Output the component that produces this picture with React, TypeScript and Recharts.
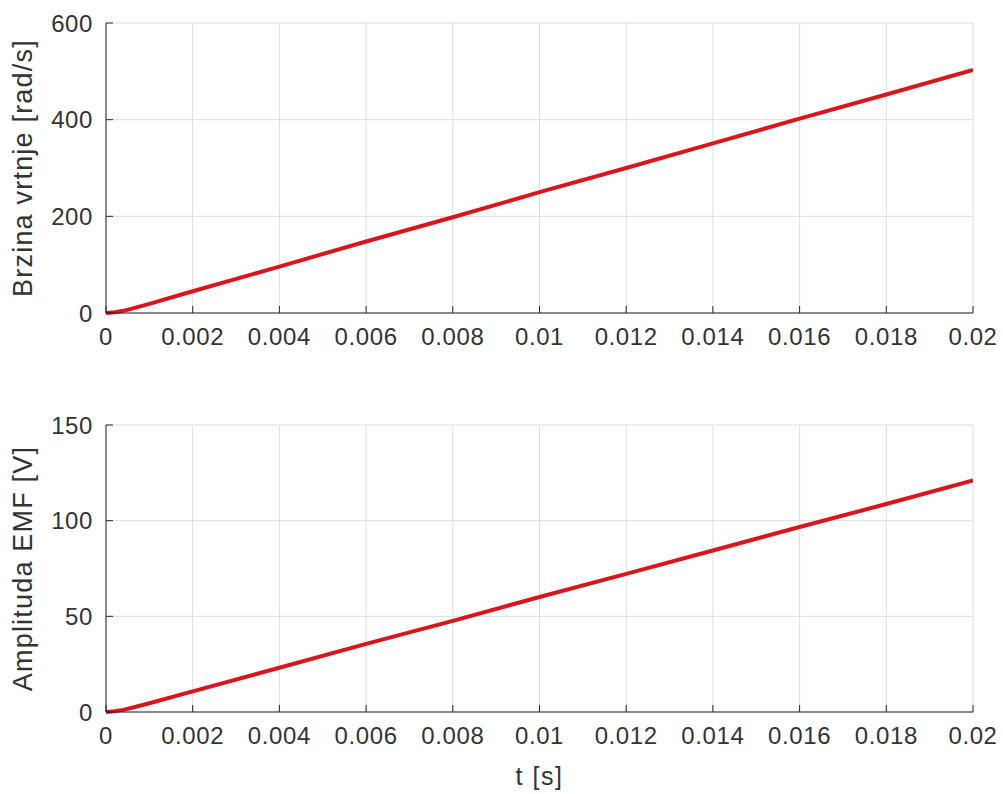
import React from 'react';
import { LineChart, Line, XAxis, YAxis, CartesianGrid } from 'recharts';

const timeS = [0, 0.0002, 0.0004, 0.0006, 0.001, 0.002, 0.004, 0.006, 0.008, 0.01, 0.012, 0.014, 0.016, 0.018, 0.02];
const speedRadS = [0, 1.5, 4.5, 9, 19, 45, 96, 148, 198, 250, 300, 351, 402, 452, 503];
const emfV = [0, 0.4, 1.1, 2.2, 4.6, 10.8, 23.1, 35.6, 47.6, 60.1, 72.2, 84.4, 96.7, 108.7, 121];
const xTicks = [0, 0.002, 0.004, 0.006, 0.008, 0.01, 0.012, 0.014, 0.016, 0.018, 0.02];
const speedTicks = [0, 200, 400, 600];
const emfTicks = [0, 50, 100, 150];

const speedData = timeS.map((t, i) => ({ t, v: speedRadS[i] }));
const emfData = timeS.map((t, i) => ({ t, v: emfV[i] }));

const AX = '#262626';
const TXT = '#333333';
const FONT = 'Liberation Sans, Arial, Helvetica, sans-serif';
const tickStyle = { fill: TXT, fontSize: 24, fontFamily: FONT, letterSpacing: 0.6 };
const labelStyle = { fill: TXT, fontSize: 27, fontFamily: FONT, letterSpacing: 1.2 };
const fmt = (v: number) => String(Number(v.toFixed(4)));

function Panel(props: {
  data: { t: number; v: number }[];
  yTicks: number[];
  yMax: number;
  yLabel: string;
  height: number;
  marginTop: number;
  marginBottom: number;
  xAxisHeight: number;
  xLabel?: string;
}) {
  return (
    <LineChart
      width={1003}
      height={props.height}
      data={props.data}
      margin={{ top: props.marginTop, right: 30, left: 0, bottom: props.marginBottom }}
    >
      <CartesianGrid stroke="#dedede" strokeWidth={1} />
      <XAxis
        dataKey="t"
        type="number"
        domain={[0, 0.02]}
        ticks={xTicks}
        tickFormatter={fmt}
        allowDataOverflow
        height={props.xAxisHeight}
        stroke={AX}
        tick={tickStyle}
        tickSize={-7}
        tickMargin={22}
        label={
          props.xLabel
            ? { value: props.xLabel, position: 'insideBottom', offset: 2, style: { ...labelStyle, fontSize: 25, letterSpacing: 1.5 } }
            : undefined
        }
      />
      <XAxis xAxisId="top" orientation="top" dataKey="t" type="number" domain={[0, 0.02]} ticks={xTicks} height={0} stroke={AX} tick={false} tickSize={-7} />
      <YAxis
        type="number"
        domain={[0, props.yMax]}
        ticks={props.yTicks}
        width={106}
        stroke={AX}
        tick={tickStyle}
        tickSize={-7}
        tickMargin={20}
        label={{ value: props.yLabel, angle: -90, position: 'insideLeft', offset: 22, style: { ...labelStyle, textAnchor: 'middle' } }}
      />
      <YAxis yAxisId="right" orientation="right" type="number" domain={[0, props.yMax]} ticks={props.yTicks} width={0} stroke={AX} tick={false} tickSize={-7} />
      <Line type="linear" dataKey="v" stroke="#d9161c" strokeWidth={4} dot={false} isAnimationActive={false} />
    </LineChart>
  );
}

export default function App() {
  return (
    <div style={{ position: 'absolute', left: 0, top: 0, width: 1003, height: 794, background: '#fff' }}>
      <div style={{ position: 'absolute', left: 0, top: 0 }}>
        <Panel data={speedData} yTicks={speedTicks} yMax={600} yLabel="Brzina vrtnje [rad/s]" height={360} marginTop={23} marginBottom={7} xAxisHeight={40} />
      </div>
      <div style={{ position: 'absolute', left: 0, top: 360 }}>
        <Panel data={emfData} yTicks={emfTicks} yMax={150} yLabel="Amplituda EMF [V]" height={434} marginTop={65} marginBottom={7} xAxisHeight={75} xLabel="t [s]" />
      </div>
    </div>
  );
}
